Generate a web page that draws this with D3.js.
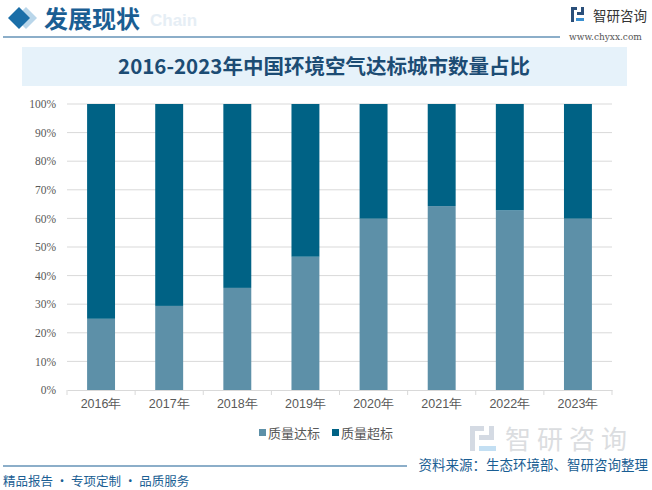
<!DOCTYPE html>
<html><head><meta charset="utf-8">
<script src="https://cdn.jsdelivr.net/npm/d3@7"></script>
<style>body{margin:0;background:#fff}svg{display:block;font-family:"Noto Sans CJK SC","Noto Sans",sans-serif}</style>
</head><body>
<svg id="c" width="652" height="490"></svg>
<script>
const years = ["2016年","2017年","2018年","2019年","2020年","2021年","2022年","2023年"];
const qualified = [24.9, 29.4, 35.7, 46.6, 59.9, 64.3, 62.8, 59.9];
const exceeded = qualified.map(v => +(100 - v).toFixed(1));
const seriesNames = ["质量达标","质量超标"];
const seriesColors = ["#5d90a8","#006285"];
const yTicks = [0,10,20,30,40,50,60,70,80,90,100];

const svg = d3.select("#c");

// header
svg.append("path").attr("d","M19,7 L30,18 L19,29 L8,18 Z").attr("fill","#b9d6ea").attr("transform","translate(7,0)");
svg.append("path").attr("d","M19,7 L30,18 L19,29 L8,18 Z").attr("fill","#1a6ea8");
svg.append("text").attr("x",150).attr("y",26).attr("font-size",17).attr("font-weight","bold")
  .attr("fill","#e6eef5").attr("font-family","Arial, Liberation Sans, sans-serif").text("Chain");
svg.append("text").attr("x",44).attr("y",28).attr("font-size",24).attr("font-weight","bold")
  .attr("fill","#1a5e93").text("发展现状");
svg.append("line").attr("x1",3).attr("x2",560).attr("y1",37).attr("y2",37).attr("stroke","#1a5e93").attr("stroke-width",1.2);
// logo top right
const lg = svg.append("g").attr("transform","translate(571,7)");
lg.append("rect").attr("x",0).attr("y",0).attr("width",6).attr("height",3).attr("fill","#2a4f7a");
lg.append("rect").attr("x",0).attr("y",0).attr("width",3).attr("height",15).attr("fill","#2a4f7a");
lg.append("rect").attr("x",6).attr("y",5).attr("width",7).attr("height",3).attr("fill","#2a4f7a");
lg.append("rect").attr("x",10).attr("y",0).attr("width",3).attr("height",8).attr("fill","#2a4f7a");
lg.append("rect").attr("x",5).attr("y",11).attr("width",8).attr("height",3).attr("fill","#3a8fd0");
svg.append("text").attr("x",593).attr("y",21).attr("font-size",13.5).attr("fill","#333").text("智研咨询");
svg.append("text").attr("x",569).attr("y",40).attr("font-size",9).attr("fill","#555")
  .attr("font-family","DejaVu Serif, serif").text("www.chyxx.com");

// title box
svg.append("rect").attr("x",22).attr("y",47).attr("width",605).attr("height",39).attr("fill","#e6f2fa");
svg.append("text").attr("x",324).attr("y",74).attr("text-anchor","middle").attr("font-size",20.5)
  .attr("font-weight","bold").attr("fill","#1c4c74").text("2016-2023年中国环境空气达标城市数量占比");

// watermark bottom right
const wm = svg.append("g").attr("opacity",0.5);
wm.append("rect").attr("x",470).attr("y",426).attr("width",14).attr("height",5).attr("fill","#aab6c8");
wm.append("rect").attr("x",470).attr("y",426).attr("width",5).attr("height",25).attr("fill","#aab6c8");
wm.append("rect").attr("x",479).attr("y",435).attr("width",15).attr("height",5).attr("fill","#aab6c8");
wm.append("rect").attr("x",489).attr("y",426).attr("width",5).attr("height",14).attr("fill","#aab6c8");
wm.append("rect").attr("x",479).attr("y",446).attr("width",17).attr("height",5).attr("fill","#88c0e8");
wm.append("text").attr("x",505).attr("y",449).attr("font-size",26).attr("fill","#b8bcc2").attr("letter-spacing",6).text("智研咨询");

// chart
const m = {l:67, r:612, t:104, b:390};
const x = d3.scaleBand().domain(years).range([m.l, m.r]).paddingInner(0.59).paddingOuter(0.295);
const y = d3.scaleLinear().domain([0,100]).range([m.b, m.t]);

const g = svg.append("g");
g.selectAll("line.grid").data(yTicks.filter(t=>t>0)).join("line")
  .attr("x1",m.l).attr("x2",m.r).attr("y1",d=>y(d)).attr("y2",d=>y(d))
  .attr("stroke","#d9d9d9").attr("stroke-width",1);

const data = years.map((yr,i)=>({yr, 质量达标:qualified[i], 质量超标:exceeded[i]}));
const stack = d3.stack().keys(seriesNames)(data);
g.selectAll("g.s").data(stack).join("g").attr("fill",(d,i)=>seriesColors[i])
  .selectAll("rect").data(d=>d).join("rect")
  .attr("x",d=>x(d.data.yr)).attr("width",x.bandwidth())
  .attr("y",d=>y(d[1])).attr("height",d=>y(d[0])-y(d[1]));

// y axis
const ya = g.append("g").attr("transform",`translate(${m.l},0)`)
  .call(d3.axisLeft(y).tickValues(yTicks).tickFormat(d=>d+"%").tickSize(0).tickPadding(11));
ya.select(".domain").remove();
ya.selectAll("text").attr("font-size",11.5).attr("fill","#595959").attr("font-family","Liberation Serif, DejaVu Serif, serif");

// x axis
const xa = g.append("g").attr("transform",`translate(0,${m.b})`)
  .call(d3.axisBottom(x).tickSize(0).tickPadding(9));
xa.select(".domain").attr("stroke","#d9d9d9");
xa.selectAll("text").attr("font-size",12.5).attr("fill","#595959");
const edges = d3.range(years.length+1).map(i=>m.l + i*(m.r-m.l)/years.length);
g.selectAll("line.xt").data(edges).join("line")
  .attr("x1",d=>d).attr("x2",d=>d).attr("y1",m.b).attr("y2",m.b+5).attr("stroke","#d9d9d9");

// legend
const leg = svg.append("g").attr("transform","translate(259,433)");
seriesNames.forEach((n,i)=>{
  const gx = i*73;
  leg.append("rect").attr("x",gx).attr("y",-4).attr("width",7).attr("height",7).attr("fill",seriesColors[i]);
  leg.append("text").attr("x",gx+9).attr("y",0).attr("dy","0.35em").attr("font-size",13).attr("fill","#595959").text(n);
});

// footer
svg.append("line").attr("x1",3).attr("x2",407).attr("y1",466).attr("y2",466).attr("stroke","#1a5e93").attr("stroke-width",1.2);
svg.append("text").attr("x",648).attr("y",470).attr("text-anchor","end").attr("font-size",13.5).attr("fill","#1a5e93").text("资料来源：生态环境部、智研咨询整理");
svg.append("text").attr("x",3).attr("y",486).attr("font-size",12.5).attr("fill","#1a5e93").text("精品报告 · 专项定制 · 品质服务");
</script>
</body></html>
